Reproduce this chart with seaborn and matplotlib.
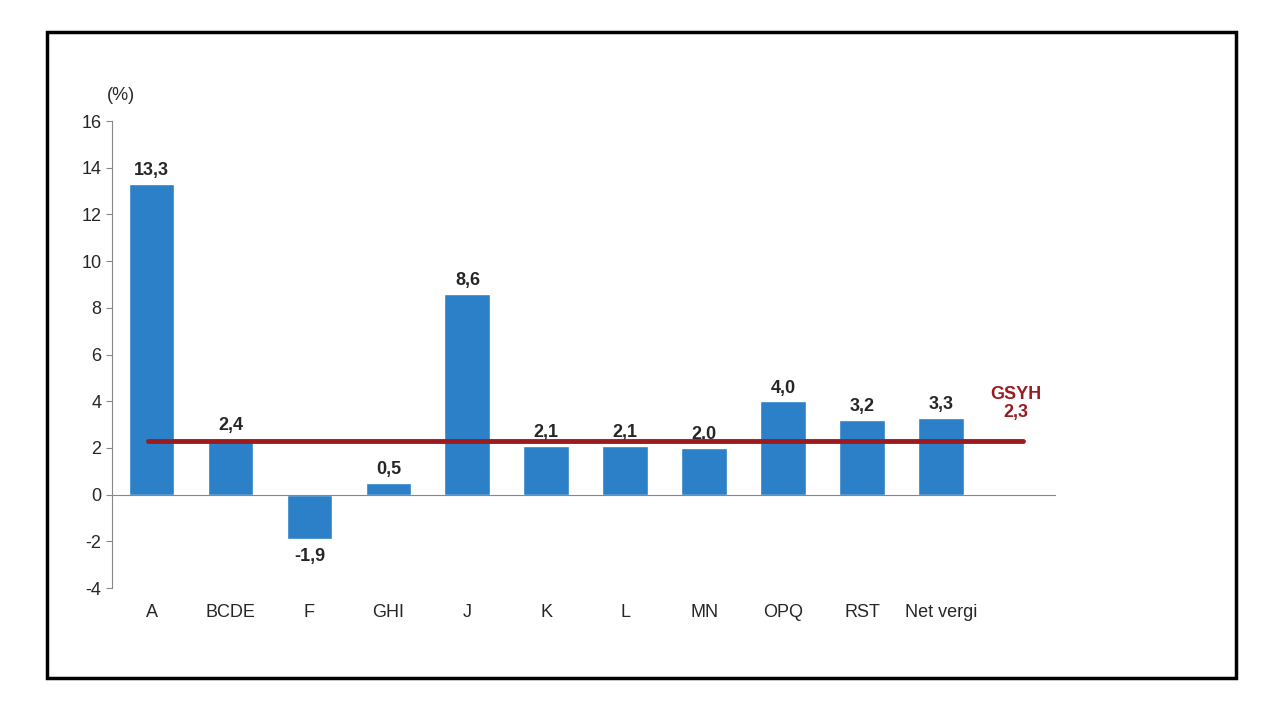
import matplotlib
matplotlib.use("Agg")
import matplotlib.pyplot as plt
import seaborn as sns
import pandas as pd
from matplotlib.patches import Rectangle

categories = ["A", "BCDE", "F", "GHI", "J", "K", "L", "MN", "OPQ", "RST", "Net vergi"]
values = [13.3, 2.4, -1.9, 0.5, 8.6, 2.1, 2.1, 2.0, 4.0, 3.2, 3.3]
gsyh = 2.3
yticks = list(range(-4, 17, 2))

sns.set_style("white")
plt.rcParams['font.family'] = ['Liberation Sans', 'DejaVu Sans']

df = pd.DataFrame({"cat": categories, "val": values})

fig = plt.figure(figsize=(12.8, 7.2), dpi=100)
fig.patches.append(Rectangle((47 / 1280, 1 - 678 / 720), 1189 / 1280, 646 / 720,
                             transform=fig.transFigure, fill=False,
                             edgecolor="black", linewidth=2.5))
ax = fig.add_axes([0.0875, 0.1833, 0.7367, 0.6486])

sns.barplot(data=df, x="cat", y="val", color="#2B80C8", saturation=1,
            width=0.58, ax=ax)
ax.set_xlim(-0.5, 11.44)
ax.set_ylim(-4, 16)
ax.set_yticks(yticks)
ax.set_yticklabels([str(t) for t in yticks], fontsize=13)
ax.tick_params(axis="x", length=0, labelbottom=False)
ax.tick_params(axis="y", length=4, left=True, direction="out", color="#888888")
ax.set_xlabel("")
ax.set_ylabel("")
for s in ["top", "right"]:
    ax.spines[s].set_visible(False)
ax.spines["bottom"].set_position(("data", 0))
ax.spines["bottom"].set_color("#888888")
ax.spines["left"].set_color("#888888")

# category labels sit below the plot area, not on the zero line
for i, c in enumerate(categories):
    ax.text(i, -0.035, c, transform=ax.get_xaxis_transform(), ha="center",
            va="top", fontsize=13)

for i, v in enumerate(values):
    label = f"{v:.1f}".replace(".", ",")
    if v >= 0:
        ax.text(i, v + 0.2, label, ha="center", va="bottom", fontsize=13, fontweight="bold")
    else:
        ax.text(i, v - 0.4, label, ha="center", va="top", fontsize=13, fontweight="bold")

ax.plot([-0.05, 11.03], [gsyh, gsyh], color="#9B1B1E", linewidth=3.5, zorder=5)
ax.text(10.95, 3.15, "GSYH\n2,3", ha="center", va="bottom", fontsize=13,
        fontweight="bold", color="#9B1B1E", linespacing=1.1)
ax.text(-0.005, 1.045, "(%)", transform=ax.transAxes, fontsize=13, ha="left")

fig.savefig("out.png", dpi=100)
